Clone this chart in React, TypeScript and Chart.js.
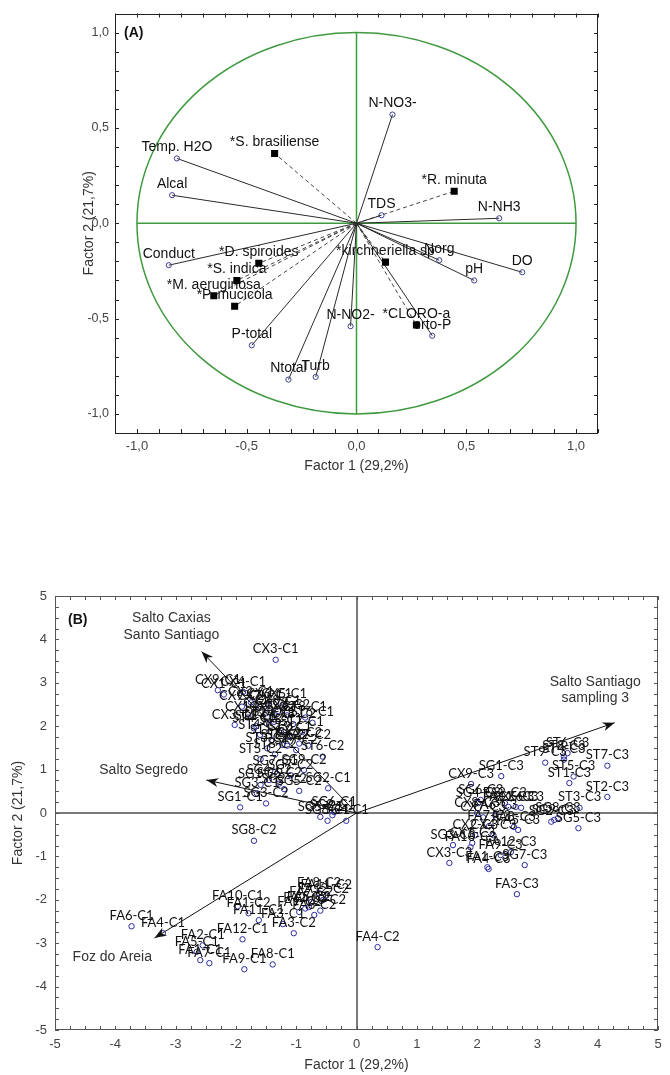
import React, { useEffect, useRef } from 'react';
import { Chart, registerables } from 'chart.js';
Chart.register(...registerables);

const TXT = '"Liberation Sans", Arial, sans-serif';
const LBL_B = 'Lato, "Liberation Sans", sans-serif';

// ---------------- Panel A : correlation circle ----------------
const varNamesA = ['Temp. H2O', 'Alcal', 'Conduct', 'P-total', 'Ntotal', 'Turb', 'N-NO2-', 'orto-P', 'pH', 'DO', 'Norg', 'N-NH3', 'TDS', 'N-NO3-'];
const varF1A = [-0.818, -0.84, -0.855, -0.477, -0.31, -0.186, -0.027, 0.345, 0.536, 0.755, 0.377, 0.65, 0.114, 0.164];
const varF2A = [0.34, 0.147, -0.22, -0.64, -0.82, -0.806, -0.54, -0.59, -0.3, -0.257, -0.194, 0.026, 0.042, 0.57];

const spNamesA = ['*S. brasiliense', '*D. spiroides', '*S. indica', '*M. aeruginosa', '*P. mucicola', '*kirchneriella sp', '*CLORO-a', '*R. minuta'];
const spF1A = [-0.373, -0.445, -0.545, -0.65, -0.555, 0.132, 0.273, 0.445];
const spF2A = [0.366, -0.21, -0.3, -0.38, -0.435, -0.204, -0.534, 0.168];

const tickValuesA = [-1, -0.5, 0, 0.5, 1];
const tickLabelsA = ['-1,0', '-0,5', '0,0', '0,5', '1,0'];

// ---------------- Panel B : sample scores ----------------
const siteNamesB = [
  'CX3-C1', 'CX9-C1', 'CX1-C1', 'CX4-C1', 'CX6-C1', 'CX5-C1', 'CX2-C1', 'CX7-C1', 'CX8-C1',
  'CX9-C2', 'CX3-C2', 'CX1-C2', 'CX4-C2', 'CX5-C2', 'CX6-C2', 'CX2-C2', 'CX7-C2', 'CX8-C2',
  'ST1-C1', 'ST2-C1', 'ST3-C1', 'ST4-C1', 'ST5-C1', 'ST6-C1', 'ST7-C1', 'ST8-C1', 'ST9-C1',
  'ST1-C2', 'ST2-C2', 'ST3-C2', 'ST4-C2', 'ST5-C2', 'ST6-C2', 'ST7-C2', 'ST8-C2', 'ST9-C2',
  'SG1-C1', 'SG3-C2', 'SG8-C2', 'SG2-C1', 'SG1-C2', 'SG4-C2', 'SG6-C2', 'SG7-C2', 'SG9-C2',
  'SG5-C2', 'SG2-C2', 'SG3-C1', 'SG7-C1', 'SG5-C1', 'SG8-C1', 'SG9-C1', 'SG6-C1', 'SG4-C1',
  'FA6-C1', 'FA4-C1', 'FA12-C1', 'FA9-C1', 'FA8-C1', 'FA1-C1', 'FA7-C1', 'FA2-C1', 'FA5-C1',
  'FA3-C1', 'FA10-C1', 'FA11-C1', 'FA4-C2', 'FA8-C2', 'FA11-C2', 'FA12-C2', 'FA7-C2', 'FA5-C2',
  'FA9-C2', 'FA6-C2', 'FA2-C2', 'FA10-C2', 'FA1-C2', 'FA3-C2',
  'CX1-C3', 'CX2-C3', 'CX3-C3', 'CX4-C3', 'CX5-C3', 'CX6-C3', 'CX7-C3', 'CX8-C3', 'CX9-C3',
  'ST1-C3', 'ST2-C3', 'ST3-C3', 'ST4-C3', 'ST5-C3', 'ST6-C3', 'ST7-C3', 'ST8-C3', 'ST9-C3',
  'SG1-C3', 'SG2-C3', 'SG3-C3', 'SG4-C3', 'SG5-C3', 'SG6-C3', 'SG7-C3', 'SG8-C3', 'SG9-C3',
  'FA1-C3', 'FA2-C3', 'FA3-C3', 'FA4-C3', 'FA5-C3', 'FA6-C3', 'FA7-C3', 'FA8-C3', 'FA9-C3',
  'FA10-C3', 'FA11-C3', 'FA12-C3',
];
const f1B = [
  -1.34, -2.3, -2.2, -1.88, -1.45, -1.2, -1.75, -1.6, -1.3,
  -1.9, -2.02, -1.8, -1.5, -1.4, -1.15, -0.95, -0.8, -1.05,
  -1.66, -1.5, -1.37, -1.7, -1.25, -0.73, -0.9, -0.85, -1.1,
  -1.41, -1.23, -1.48, -1.6, -1.59, -0.56, -1.0, -1.35, -1.15,
  -1.93, -1.5, -1.7, -0.47, -1.59, -1.45, -1.28, -1.09, -0.87,
  -0.95, -1.2, -1.65, -1.35, -0.6, -0.48, -0.4, -0.37, -0.17,
  -3.73, -3.21, -1.89, -1.86, -1.39, -2.59, -2.44, -2.55, -2.65,
  -1.22, -1.97, -1.62, 0.35, -0.62, -0.5, -0.55, -0.75, -0.79,
  -0.95, -0.7, -0.85, -0.6, -1.79, -1.04,
  1.92, 1.97, 1.54, 2.27, 2.64, 2.73, 2.1, 2.0, 1.9,
  3.53, 4.16, 3.7, 3.44, 3.6, 3.5, 4.16, 3.44, 3.13,
  2.4, 3.23, 1.6, 2.02, 3.68, 2.06, 2.79, 3.34, 3.28,
  2.17, 2.46, 2.66, 2.19, 2.68, 2.3, 2.2, 2.61, 2.39,
  1.89, 2.52, 2.56,
];
const f2B = [
  3.53, 2.83, 2.73, 2.79, 2.5, 2.5, 2.55, 2.45, 2.35,
  2.45, 2.03, 2.2, 2.3, 2.2, 2.25, 1.6, 1.55, 2.05,
  2.0, 2.07, 2.1, 1.95, 1.9, 2.08, 1.87, 2.2, 1.75,
  1.68, 1.57, 1.49, 1.8, 1.24, 1.3, 1.45, 1.35, 1.55,
  0.13, 0.22, -0.64, 0.57, 0.65, 0.76, 0.68, 0.87, 0.99,
  0.51, 0.55, 0.45, 0.95, -0.09, -0.18, -0.05, 0.02, -0.18,
  -2.61, -2.77, -2.91, -3.6, -3.49, -3.39, -3.46, -3.05, -3.2,
  -2.56, -2.15, -2.47, -3.09, -1.85, -1.9, -2.0, -2.05, -2.17,
  -2.28, -2.35, -2.2, -2.25, -2.31, -2.77,
  -0.69, -0.51, -1.15, -0.51, 0.14, 0.12, -0.1, 0.0, 0.67,
  0.69, 0.37, 0.12, 1.23, 0.84, 1.38, 1.09, 1.3, 1.16,
  0.85, -0.2, -0.74, 0.23, -0.35, 0.3, -1.2, -0.12, -0.16,
  -1.25, 0.23, -1.87, -1.29, -0.39, -0.05, -0.3, -0.32, -0.97,
  -0.79, 0.14, -0.9,
];

const groupNamesB = [['Salto Caxias', 'Santo Santiago'], ['Salto Segredo'], ['Salto Santiago', 'sampling 3'], ['Foz do Areia']];
const groupArrowF1 = [-2.57, -2.49, 4.28, -3.35];
const groupArrowF2 = [3.72, 0.76, 2.08, -2.88];
const groupTextF1 = [-3.07, -3.53, 3.96, -4.05];
const groupTextF2 = [4.29, 0.99, 2.83, -3.32];

const tickValuesB = [-5, -4, -3, -2, -1, 0, 1, 2, 3, 4, 5];
const tickLabelsB = ['-5', '-4', '-3', '-2', '-1', '0', '1', '2', '3', '4', '5'];

// ---------------- helpers ----------------
function labelFor(values: number[], labels: string[], v: number) {
  const i = values.findIndex((t) => Math.abs(t - v) < 1e-6);
  return i >= 0 ? labels[i] : '';
}

function axis(min: number, max: number, step: number, values: number[], labels: string[], title: string, horiz: boolean, size: number, pad: number, fs: number) {
  return {
    type: 'linear',
    min,
    max,
    afterFit: (s: any) => {
      if (horiz) s.height = size;
      else s.width = size;
    },
    ticks: {
      stepSize: step,
      autoSkip: false,
      maxRotation: 0,
      minRotation: 0,
      padding: pad,
      color: '#444',
      font: { family: TXT, size: fs },
      callback: (v: any) => labelFor(values, labels, Number(v)),
    },
    grid: { display: false, drawTicks: false },
    border: { display: false },
    title: { display: true, text: title, color: '#333', padding: 0, font: { family: TXT, size: 14 } },
  };
}

function drawFrame(chart: any, color: string, len: number) {
  const { ctx, chartArea: a } = chart;
  const xs = chart.scales.x;
  const ys = chart.scales.y;
  ctx.save();
  ctx.strokeStyle = color;
  ctx.lineWidth = 1;
  ctx.strokeRect(Math.round(a.left) + 0.5, Math.round(a.top) + 0.5, Math.round(a.width) - 1, Math.round(a.height) - 1);
  ctx.beginPath();
  xs.ticks.forEach((t: any) => {
    const p = Math.round(xs.getPixelForValue(t.value)) + 0.5;
    ctx.moveTo(p, a.bottom);
    ctx.lineTo(p, a.bottom - len);
    ctx.moveTo(p, a.top);
    ctx.lineTo(p, a.top + len);
  });
  ys.ticks.forEach((t: any) => {
    const p = Math.round(ys.getPixelForValue(t.value)) + 0.5;
    ctx.moveTo(a.left, p);
    ctx.lineTo(a.left + len, p);
    ctx.moveTo(a.right, p);
    ctx.lineTo(a.right - len, p);
  });
  ctx.stroke();
  ctx.restore();
}

// ---------------- chart A ----------------
function configA(): any {
  const solid = varNamesA.map((_, i) => ({
    data: [{ x: 0, y: 0 }, { x: varF1A[i], y: varF2A[i] }],
    showLine: true,
    borderColor: '#2a2a2a',
    borderWidth: 1,
    pointRadius: 0,
    order: 5,
  }));
  const dashed = spNamesA.map((_, i) => ({
    data: [{ x: 0, y: 0 }, { x: spF1A[i], y: spF2A[i] }],
    showLine: true,
    borderColor: '#444',
    borderWidth: 1,
    borderDash: [4, 3],
    pointRadius: 0,
    order: 5,
  }));
  const varPts = {
    data: varF1A.map((x, i) => ({ x, y: varF2A[i] })),
    pointStyle: 'circle',
    pointRadius: 2.6,
    borderWidth: 1,
    borderColor: '#3d3d90',
    backgroundColor: 'rgba(255,255,255,0)',
    order: 1,
  };
  const spPts = {
    data: spF1A.map((x, i) => ({ x, y: spF2A[i] })),
    pointStyle: 'rect',
    pointRadius: 5,
    borderWidth: 0,
    borderColor: '#000',
    backgroundColor: '#000',
    order: 1,
  };
  const datasets = [...solid, ...dashed, varPts, spPts];
  const nVarIdx = solid.length + dashed.length;

  const overlay = {
    id: 'overlayA',
    beforeDatasetsDraw(chart: any) {
      const { ctx } = chart;
      const xs = chart.scales.x;
      const ys = chart.scales.y;
      const cx = xs.getPixelForValue(0);
      const cy = ys.getPixelForValue(0);
      const rx = xs.getPixelForValue(1) - cx;
      const ry = cy - ys.getPixelForValue(1);
      ctx.save();
      ctx.strokeStyle = '#3f9a3f';
      ctx.lineWidth = 1.5;
      ctx.beginPath();
      ctx.ellipse(cx, cy, rx, ry, 0, 0, Math.PI * 2);
      ctx.stroke();
      ctx.beginPath();
      ctx.moveTo(xs.getPixelForValue(-1), cy);
      ctx.lineTo(xs.getPixelForValue(1), cy);
      ctx.moveTo(cx, ys.getPixelForValue(1));
      ctx.lineTo(cx, ys.getPixelForValue(-1));
      ctx.stroke();
      ctx.restore();
    },
    afterDatasetsDraw(chart: any) {
      const { ctx, chartArea: a } = chart;
      drawFrame(chart, '#222', 4);
      ctx.save();
      ctx.fillStyle = '#111';
      ctx.font = `14px ${TXT}`;
      ctx.textAlign = 'center';
      ctx.textBaseline = 'bottom';
      const vm = chart.getDatasetMeta(nVarIdx).data;
      varNamesA.forEach((n, i) => ctx.fillText(n, vm[i].x, vm[i].y - 4));
      const sm = chart.getDatasetMeta(nVarIdx + 1).data;
      spNamesA.forEach((n, i) => ctx.fillText(n, sm[i].x, sm[i].y - 4));
      ctx.font = `bold 14px ${TXT}`;
      ctx.textAlign = 'left';
      ctx.textBaseline = 'middle';
      ctx.fillText('(A)', a.left + 9, a.top + 20);
      ctx.restore();
    },
  };

  return {
    type: 'scatter',
    data: { datasets },
    options: {
      responsive: false,
      animation: false,
      devicePixelRatio: 1,
      events: [],
      layout: { padding: { left: 80.6, top: 10, right: 72, bottom: 15.6 } },
      plugins: { legend: { display: false }, tooltip: { enabled: false } },
      scales: {
        x: axis(-1.1, 1.1, 0.1, tickValuesA, tickLabelsA, 'Factor 1 (29,2%)', true, 41.4, 6, 13),
        y: axis(-1.1, 1.1, 0.1, tickValuesA, tickLabelsA, 'Factor 2 (21,7%)', false, 34.4, 6, 12.5),
      },
    },
    plugins: [overlay],
  };
}

// ---------------- chart B ----------------
function configB(): any {
  const arrows = groupArrowF1.map((x, i) => ({
    data: [{ x: 0, y: 0 }, { x, y: groupArrowF2[i] }],
    showLine: true,
    borderColor: '#111',
    borderWidth: 1,
    pointRadius: 0,
    order: 5,
  }));
  const pts = {
    data: f1B.map((x, i) => ({ x, y: f2B[i] })),
    pointStyle: 'circle',
    pointRadius: 2.7,
    borderWidth: 1,
    borderColor: '#2a2aa0',
    backgroundColor: 'rgba(255,255,255,0)',
    order: 1,
  };
  const datasets = [...arrows, pts];
  const ptsIdx = arrows.length;

  const overlay = {
    id: 'overlayB',
    beforeDatasetsDraw(chart: any) {
      const { ctx, chartArea: a } = chart;
      const xs = chart.scales.x;
      const ys = chart.scales.y;
      const cx = Math.round(xs.getPixelForValue(0));
      const cy = Math.round(ys.getPixelForValue(0));
      ctx.save();
      ctx.strokeStyle = '#7a7a7a';
      ctx.lineWidth = 2;
      ctx.beginPath();
      ctx.moveTo(a.left, cy);
      ctx.lineTo(a.right, cy);
      ctx.moveTo(cx, a.top);
      ctx.lineTo(cx, a.bottom);
      ctx.stroke();
      ctx.restore();
    },
    afterDatasetsDraw(chart: any) {
      const { ctx, chartArea: a } = chart;
      const xs = chart.scales.x;
      const ys = chart.scales.y;
      drawFrame(chart, '#555', 4);
      ctx.save();
      // arrow heads
      ctx.fillStyle = '#111';
      const ox = xs.getPixelForValue(0);
      const oy = ys.getPixelForValue(0);
      groupArrowF1.forEach((x, i) => {
        const px = xs.getPixelForValue(x);
        const py = ys.getPixelForValue(groupArrowF2[i]);
        const ang = Math.atan2(py - oy, px - ox);
        const L = 12;
        const W = 4.5;
        ctx.beginPath();
        ctx.moveTo(px, py);
        ctx.lineTo(px - L * Math.cos(ang) + W * Math.sin(ang), py - L * Math.sin(ang) - W * Math.cos(ang));
        ctx.lineTo(px - L * 0.7 * Math.cos(ang), py - L * 0.7 * Math.sin(ang));
        ctx.lineTo(px - L * Math.cos(ang) - W * Math.sin(ang), py - L * Math.sin(ang) + W * Math.cos(ang));
        ctx.closePath();
        ctx.fill();
      });
      // point labels
      ctx.fillStyle = '#111';
      ctx.font = `13px ${LBL_B}`;
      ctx.textAlign = 'center';
      ctx.textBaseline = 'bottom';
      const m = chart.getDatasetMeta(ptsIdx).data;
      siteNamesB.forEach((n, i) => ctx.fillText(n, m[i].x, m[i].y - 4));
      // group labels
      ctx.fillStyle = '#333';
      ctx.font = `14px ${TXT}`;
      ctx.textBaseline = 'middle';
      groupNamesB.forEach((lines, i) => {
        const px = xs.getPixelForValue(groupTextF1[i]);
        const py = ys.getPixelForValue(groupTextF2[i]);
        const h = 16.5;
        lines.forEach((ln, k) => ctx.fillText(ln, px, py + (k - (lines.length - 1) / 2) * h));
      });
      ctx.fillStyle = '#111';
      ctx.font = `bold 14px ${TXT}`;
      ctx.textAlign = 'left';
      ctx.fillText('(B)', a.left + 13, a.top + 24);
      ctx.restore();
    },
  };

  return {
    type: 'scatter',
    data: { datasets },
    options: {
      responsive: false,
      animation: false,
      devicePixelRatio: 1,
      events: [],
      layout: { padding: { left: 9.6, top: 46, right: 12, bottom: 1.6 } },
      plugins: { legend: { display: false }, tooltip: { enabled: false } },
      scales: {
        x: axis(-5, 5, 0.25, tickValuesB, tickLabelsB, 'Factor 1 (29,2%)', true, 43.4, 7, 13),
        y: axis(-5, 5, 0.25, tickValuesB, tickLabelsB, 'Factor 2 (21,7%)', false, 45.4, 8, 13),
      },
    },
    plugins: [overlay],
  };
}

export default function App() {
  const refA = useRef<HTMLCanvasElement>(null);
  const refB = useRef<HTMLCanvasElement>(null);
  useEffect(() => {
    const ca = new Chart(refA.current as HTMLCanvasElement, configA());
    const cb = new Chart(refB.current as HTMLCanvasElement, configB());
    return () => {
      ca.destroy();
      cb.destroy();
    };
  }, []);
  return (
    <div style={{ position: 'absolute', left: 0, top: 0, width: 670, height: 1075, background: '#fff' }}>
      <canvas ref={refA} width={670} height={490} style={{ position: 'absolute', left: 0, top: 0, width: 670, height: 490 }} />
      <canvas ref={refB} width={670} height={525} style={{ position: 'absolute', left: 0, top: 550, width: 670, height: 525 }} />
    </div>
  );
}
